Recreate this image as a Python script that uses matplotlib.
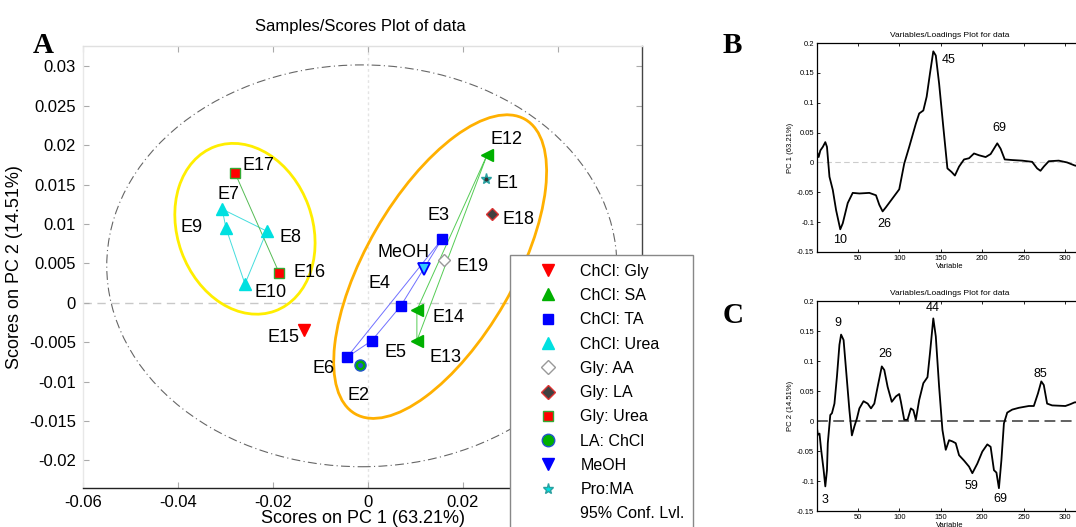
import matplotlib
matplotlib.use('Agg')
import matplotlib.pyplot as plt
from matplotlib.patches import Ellipse
from matplotlib.lines import Line2D
import matplotlib.transforms as mtransforms

plt.rcParams['font.family'] = ['Liberation Sans', 'DejaVu Sans']

# ---------------- data ----------------
sample_names = ['E1', 'E2', 'E3', 'E4', 'E5', 'E6', 'E7', 'E8', 'E9', 'E10',
                'E12', 'E13', 'E14', 'E15', 'E16', 'E17', 'E18', 'E19', 'MeOH']
sample_groups = ['Pro:MA', 'LA: ChCl', 'ChCl: TA', 'ChCl: TA', 'ChCl: TA', 'ChCl: TA',
                 'ChCl: Urea', 'ChCl: Urea', 'ChCl: Urea', 'ChCl: Urea',
                 'ChCl: SA', 'ChCl: SA', 'ChCl: SA', 'ChCl: Gly', 'Gly: Urea', 'Gly: Urea',
                 'Gly: LA', 'Gly: AA', 'MeOH']
pc1_scores = [0.0248, -0.0017, 0.0156, 0.0069, 0.0008, -0.0044, -0.0307, -0.0213, -0.0299, -0.0259,
              0.0251, 0.0103, 0.0103, -0.0135, -0.0187, -0.0280, 0.0261, 0.0160, 0.0118]
pc2_scores = [0.0157, -0.0079, 0.0081, -0.0004, -0.0048, -0.0069, 0.0119, 0.0091, 0.0095, 0.0024,
              0.0188, -0.0048, -0.0009, -0.0034, 0.0038, 0.0165, 0.0113, 0.0055, 0.0043]

legend_groups = ['ChCl: Gly', 'ChCl: SA', 'ChCl: TA', 'ChCl: Urea', 'Gly: AA', 'Gly: LA',
                 'Gly: Urea', 'LA: ChCl', 'MeOH', 'Pro:MA']

# connections between samples of one group
conn_urea = ['E7', 'E8', 'E10', 'E9', 'E7']
conn_ta = ['E3', 'E4', 'E5', 'E6', 'E3']
conn_sa = ['E12', 'E14', 'E13', 'E12']
conn_gly_urea = ['E17', 'E16']

xtick_vals = [-0.06, -0.04, -0.02, 0, 0.02, 0.04]
xtick_labels = ['-0.06', '-0.04', '-0.02', '0', '0.02', '0.04']
ytick_vals = [-0.02, -0.015, -0.01, -0.005, 0, 0.005, 0.01, 0.015, 0.02, 0.025, 0.03]
ytick_labels = ['-0.02', '-0.015', '-0.01', '-0.005', '0', '0.005', '0.01', '0.015', '0.02', '0.025', '0.03']

# 95% confidence ellipse (data units)
conf_center = (-0.0013, 0.0047)
conf_width = 0.1074
conf_height = 0.051

# PC1 loadings (panel B)
b_var = [1, 3, 5, 8, 11, 13, 16, 20, 24, 29, 32, 38, 44, 52, 64, 72, 76, 80, 84, 92,
         100, 106, 112, 120, 124, 129, 133, 137, 141, 144, 148, 153, 158, 163, 167, 172, 178, 184, 190, 196,
         204, 210, 218, 222, 227, 236, 248, 260, 266, 270, 274, 280, 292, 302, 311, 320]
b_load = [0.018, 0.009, 0.02, 0.026, 0.034, 0.026, -0.024, -0.046, -0.08, -0.112,
          -0.102, -0.068, -0.051, -0.052, -0.051, -0.055, -0.071, -0.082, -0.075, -0.06,
          -0.045, -0.002, 0.026, 0.065, 0.082, 0.087, 0.11, 0.149, 0.186, 0.179,
          0.132, 0.06, -0.01, -0.016, -0.022, -0.007, 0.005, 0.007, 0.015, 0.012,
          0.009, 0.014, 0.032, 0.023, 0.005, 0.004, 0.003, 0.001, -0.01, -0.014,
          -0.007, 0.002, 0.003, 0.0, -0.005, -0.008]
b_peaks = ['45', '10', '26', '69']
b_peak_x = [160, 29, 82, 220]
b_peak_y = [0.172, -0.13, -0.103, 0.057]

# PC2 loadings (panel C)
c_var = [1, 2, 4, 6, 9, 11, 13, 14, 17, 19, 22, 25, 28, 30, 33, 36, 40, 43, 46, 49,
         52, 57, 62, 66, 70, 74, 79, 82, 86, 91, 96, 100, 102, 106, 110, 114, 117, 120, 124, 129,
         134, 137, 141, 144, 148, 152, 156, 160, 164, 168, 172, 178, 184, 188, 194, 200, 206, 210, 214, 217,
         220, 223, 226, 230, 236, 244, 256, 262, 267, 271, 274, 278, 284, 300, 306, 311, 320]
c_load = [-0.012, -0.023, -0.021, -0.048, -0.082, -0.109, -0.082, -0.037, 0.01, 0.013,
          0.029, 0.074, 0.127, 0.144, 0.135, 0.085, 0.018, -0.024, -0.009, 0.004,
          0.021, 0.033, 0.029, 0.021, 0.029, 0.057, 0.091, 0.085, 0.057, 0.032,
          0.041, 0.045, 0.032, 0.002, 0.002, 0.021, 0.018, 0.002, 0.035, 0.063,
          0.073, 0.113, 0.171, 0.141, 0.057, -0.015, -0.048, -0.032, -0.034, -0.037,
          -0.057, -0.066, -0.076, -0.087, -0.071, -0.051, -0.039, -0.043, -0.082, -0.086,
          -0.112, -0.065, -0.004, 0.014, 0.019, 0.022, 0.025, 0.025, 0.046, 0.066,
          0.06, 0.029, 0.026, 0.025, 0.028, 0.031, 0.032]
c_peaks = ['9', '26', '44', '85', '3', '59', '69']
c_peak_x = [26, 83, 140, 270, 11, 187, 222]
c_peak_y = [0.164, 0.111, 0.188, 0.079, -0.131, -0.108, -0.13]

load_yticks = [-0.15, -0.1, -0.05, 0, 0.05, 0.1, 0.15, 0.2]
load_ytick_labels = ['-0.15', '-0.1', '-0.05', '0', '0.05', '0.1', '0.15', '0.2']
load_xticks = [50, 100, 150, 200, 250, 300]

# ---------------- styles ----------------
GREEN = '#00b000'
CYAN = '#00e0e0'
plot_style = {
    'ChCl: Gly': dict(marker='v', mfc='red', mec='red', ms=9),
    'ChCl: SA': dict(marker='<', mfc=GREEN, mec=GREEN, ms=9),
    'ChCl: TA': dict(marker='s', mfc='blue', mec='blue', ms=7.5),
    'ChCl: Urea': dict(marker='^', mfc=CYAN, mec=CYAN, ms=9),
    'Gly: AA': dict(marker='D', mfc='white', mec='#999999', ms=6),
    'Gly: LA': dict(marker='D', mfc='#404040', mec='#dd3333', ms=6.5),
    'Gly: Urea': dict(marker='s', mfc='red', mec='#33aa33', ms=7.5),
    'LA: ChCl': dict(marker='o', mfc=GREEN, mec='#2255cc', ms=8),
    'MeOH': dict(marker='v', mfc='#33ccff', mec='blue', ms=8.5, mew=1.3),
    'Pro:MA': dict(marker='*', mfc=CYAN, mec='#2aa0a0', ms=8),
}
legend_style = dict(plot_style)
legend_style['ChCl: SA'] = dict(marker='^', mfc=GREEN, mec=GREEN, ms=9)
legend_style['MeOH'] = dict(marker='v', mfc='blue', mec='blue', ms=9)
legend_style['Gly: LA'] = dict(marker='D', mfc='#404040', mec='#dd3333', ms=7)
legend_style['Gly: AA'] = dict(marker='D', mfc='white', mec='#999999', ms=7)
legend_style['LA: ChCl'] = dict(marker='o', mfc=GREEN, mec='#2255cc', ms=9)

# label offsets in pixels (left edge, vertical centre)
label_offsets = {
    'E1': (11, -4), 'E2': (-12, -30), 'E3': (-15, 24), 'E4': (-32, 23), 'E5': (13, -12),
    'E6': (-35, -11), 'E7': (-5, 15), 'E8': (13, -6), 'E9': (-45, 0), 'E10': (10, -9),
    'E12': (3, 15), 'E13': (13, -17), 'E14': (16, -8), 'E15': (-36, -8), 'E16': (14, 0),
    'E17': (8, 7), 'E18': (11, -6), 'E19': (13, -7), 'MeOH': (-47, 16),
}

W, H = 1076, 527
fig = plt.figure(figsize=(W / 100, H / 100), dpi=100)


def fbox(l, t, r, b):
    return [l / W, 1 - b / H, (r - l) / W, (b - t) / H]


# ---------------- panel A ----------------
axA = fig.add_axes(fbox(83, 46, 642, 488))
axA.set_xlim(-0.06, 0.0577)
axA.set_ylim(-0.0235, 0.0326)

axA.axhline(0, color='#c8c8c8', lw=1, ls=(0, (6, 4)), zorder=1)
axA.axvline(0, color='#e4e4e4', lw=1, ls=(0, (2, 2)), zorder=1)

axA.add_patch(Ellipse(conf_center, conf_width, conf_height, fill=False,
                      ec='#666666', lw=0.8, ls=(0, (8, 3, 1, 3)), zorder=1))

pos = {n: (x, y) for n, x, y in zip(sample_names, pc1_scores, pc2_scores)}


def connect(names, color):
    xs = [pos[n][0] for n in names]
    ys = [pos[n][1] for n in names]
    axA.plot(xs, ys, color=color, lw=0.7, zorder=2)


connect(conn_urea, '#44dddd')
connect(conn_ta, '#7070ff')
connect(conn_sa, '#55cc55')
connect(conn_gly_urea, '#55bb55')

for n, g, x, y in zip(sample_names, sample_groups, pc1_scores, pc2_scores):
    axA.plot([x], [y], ls='none', zorder=4, **plot_style[g])
    if g == 'LA: ChCl':
        axA.plot([x], [y], ls='none', marker='o', ms=2.5, mfc='#2255cc', mec='#2255cc', zorder=5)
    if g == 'Pro:MA':
        axA.plot([x], [y], ls='none', marker='o', ms=2, mfc='#333333', mec='#333333', zorder=5)
    dx, dy = label_offsets[n]
    axA.annotate(n, (x, y), xytext=(dx, dy), textcoords='offset pixels',
                 ha='left', va='center', fontsize=13, zorder=6)

# group outline ellipses (drawn in pixel units)
def pix_ellipse(center, w_px, h_px, angle, color):
    tr = fig.dpi_scale_trans + mtransforms.ScaledTranslation(center[0], center[1], axA.transData)
    axA.add_patch(Ellipse((0, 0), w_px / 100, h_px / 100, angle=angle, transform=tr,
                          fill=False, ec=color, lw=2, zorder=3))


pix_ellipse((-0.0259, 0.0094), 135, 175, 20, '#ffee00')
pix_ellipse((0.0152, 0.0046), 340, 148, 60, '#ffb000')

axA.set_xticks(xtick_vals)
axA.set_xticklabels(xtick_labels)
axA.set_yticks(ytick_vals)
axA.set_yticklabels(ytick_labels)
axA.tick_params(axis='both', labelsize=12, direction='in', length=4, color='#aaaaaa',
                top=True, right=True, pad=5)
axA.spines['top'].set_color('#e0e0e0')
axA.spines['left'].set_color('#e8e8e8')
axA.spines['right'].set_color('#444444')
axA.spines['bottom'].set_color('#222222')
for s in axA.spines.values():
    s.set_linewidth(1)
axA.set_xlabel('Scores on PC 1 (63.21%)', fontsize=13, labelpad=0)
axA.set_ylabel('Scores on PC 2 (14.51%)', fontsize=13, labelpad=4)
fig.text(360 / W, 1 - 26 / H, 'Samples/Scores Plot of data', ha='center', va='center', fontsize=12)

handles = [Line2D([], [], ls='none', **legend_style[g]) for g in legend_groups]
handles.append(Line2D([], [], ls='none'))
labels = legend_groups + ['95% Conf. Lvl.']
leg = fig.legend(handles, labels, loc='upper left', bbox_to_anchor=(510 / W, 1 - 255 / H),
                 bbox_transform=fig.transFigure, fontsize=11.5, frameon=True, fancybox=False,
                 edgecolor='#888888', facecolor='white', framealpha=1.0,
                 borderpad=0.55, handlelength=3.6, handletextpad=0.25,
                 labelspacing=0.58, borderaxespad=0)
leg.get_frame().set_linewidth(1)

# ---------------- panels B and C ----------------
def loading_panel(box, xv, yv, ylabel, peaks, px, py, zero_style):
    ax = fig.add_axes(fbox(*box))
    ax.plot(xv, yv, color='black', lw=1.3, zorder=3)
    ax.axhline(0, zorder=2, **zero_style)
    ax.set_xlim(1, 320)
    ax.set_ylim(-0.15, 0.2)
    ax.set_yticks(load_yticks)
    ax.set_yticklabels(load_ytick_labels)
    ax.set_xticks(load_xticks)
    ax.tick_params(axis='both', labelsize=5.5, direction='in', length=2, top=True, right=True,
                   pad=2, width=0.6)
    for s in ax.spines.values():
        s.set_linewidth(0.9)
    ax.set_title('Variables/Loadings Plot for data', fontsize=6, pad=4)
    ax.set_ylabel(ylabel, fontsize=5.5, labelpad=2)
    ax.set_xlabel('Variable', fontsize=5.5, labelpad=1)
    for t, x, y in zip(peaks, px, py):
        ax.text(x, y, t, ha='center', va='center', fontsize=9)
    return ax


loading_panel((817, 43, 1082, 252), b_var, b_load, 'PC 1 (63.21%)', b_peaks, b_peak_x, b_peak_y,
              dict(color='#cccccc', lw=0.8, ls=(0, (5, 3))))
loading_panel((817, 301, 1082, 511), c_var, c_load, 'PC 2 (14.51%)', c_peaks, c_peak_x, c_peak_y,
              dict(color='#555555', lw=1.3, ls=(0, (6, 3))))

# panel letters
for letter, x, y in [('A', 33, 53), ('B', 723, 53), ('C', 723, 323)]:
    fig.text(x / W, 1 - y / H, letter, fontfamily='Liberation Serif', fontweight='bold',
             fontsize=21, ha='left', va='baseline')

fig.savefig('out.png', dpi=100)
